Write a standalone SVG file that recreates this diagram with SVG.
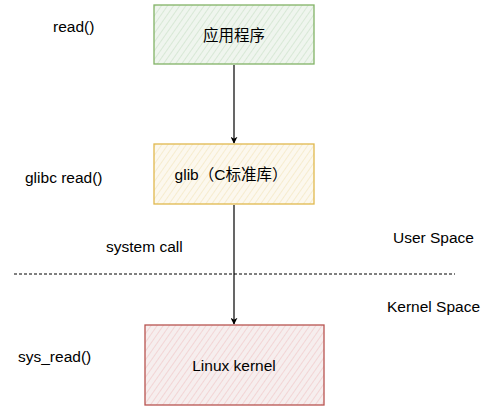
<svg xmlns="http://www.w3.org/2000/svg" width="500" height="413" viewBox="0 0 500 413">
<style>
text{font-family:"Liberation Sans","Noto Sans CJK SC",Arial,sans-serif;font-size:15.5px;fill:#000}
.c{text-anchor:middle}
.conn{stroke:#000;stroke-width:1.2;fill:none}
</style>
<defs>
<pattern id="hg" width="5" height="5" patternUnits="userSpaceOnUse" patternTransform="rotate(35)">
<rect width="5" height="5" fill="#eff5ee"/><line x1="0" y1="0" x2="0" y2="5" stroke="#d3e5d0" stroke-width="1.6"/>
</pattern>
<pattern id="hy" width="5" height="5" patternUnits="userSpaceOnUse" patternTransform="rotate(35)">
<rect width="5" height="5" fill="#fcf8ee"/><line x1="0" y1="0" x2="0" y2="5" stroke="#f5e9c8" stroke-width="1.6"/>
</pattern>
<pattern id="hr" width="5" height="5" patternUnits="userSpaceOnUse" patternTransform="rotate(35)">
<rect width="5" height="5" fill="#f6eeee"/><line x1="0" y1="0" x2="0" y2="5" stroke="#f1cfcf" stroke-width="1.6"/>
</pattern>
<marker id="ah" viewBox="0 0 10 10" refX="9" refY="5" markerWidth="7" markerHeight="7" orient="auto" markerUnits="userSpaceOnUse">
<path d="M0,0 L10,5 L0,10 L3,5 Z" fill="#000"/>
</marker>
</defs>
<g id="connectors">
<line class="conn" x1="234" y1="65" x2="234" y2="143" marker-end="url(#ah)"/>
<line class="conn" x1="234" y1="205" x2="234" y2="324" marker-end="url(#ah)"/>
<line x1="14" y1="274" x2="455" y2="274" stroke="#000" stroke-width="1" stroke-dasharray="3,2"/>
</g>
<g id="app">
<rect x="154" y="5" width="160" height="59" fill="url(#hg)" stroke="#82b366" stroke-width="1.3"/>
<text class="c" x="234" y="41">应用程序</text>
</g>
<g id="glib">
<rect x="154" y="144" width="160" height="60" fill="url(#hy)" stroke="#e0b84e" stroke-width="1.3"/>
<text class="c" x="231" y="180">glib（C标准库）</text>
</g>
<g id="kernel">
<rect x="145" y="325" width="179" height="80" fill="url(#hr)" stroke="#b85450" stroke-width="1.3"/>
<text class="c" x="234" y="371">Linux kernel</text>
</g>
<g id="labels">
<text x="53" y="32">read()</text>
<text x="25" y="183">glibc read()</text>
<text x="106" y="252">system call</text>
<text x="393" y="243">User Space</text>
<text x="387" y="312">Kernel Space</text>
<text x="18" y="362">sys_read()</text>
</g>
</svg>
